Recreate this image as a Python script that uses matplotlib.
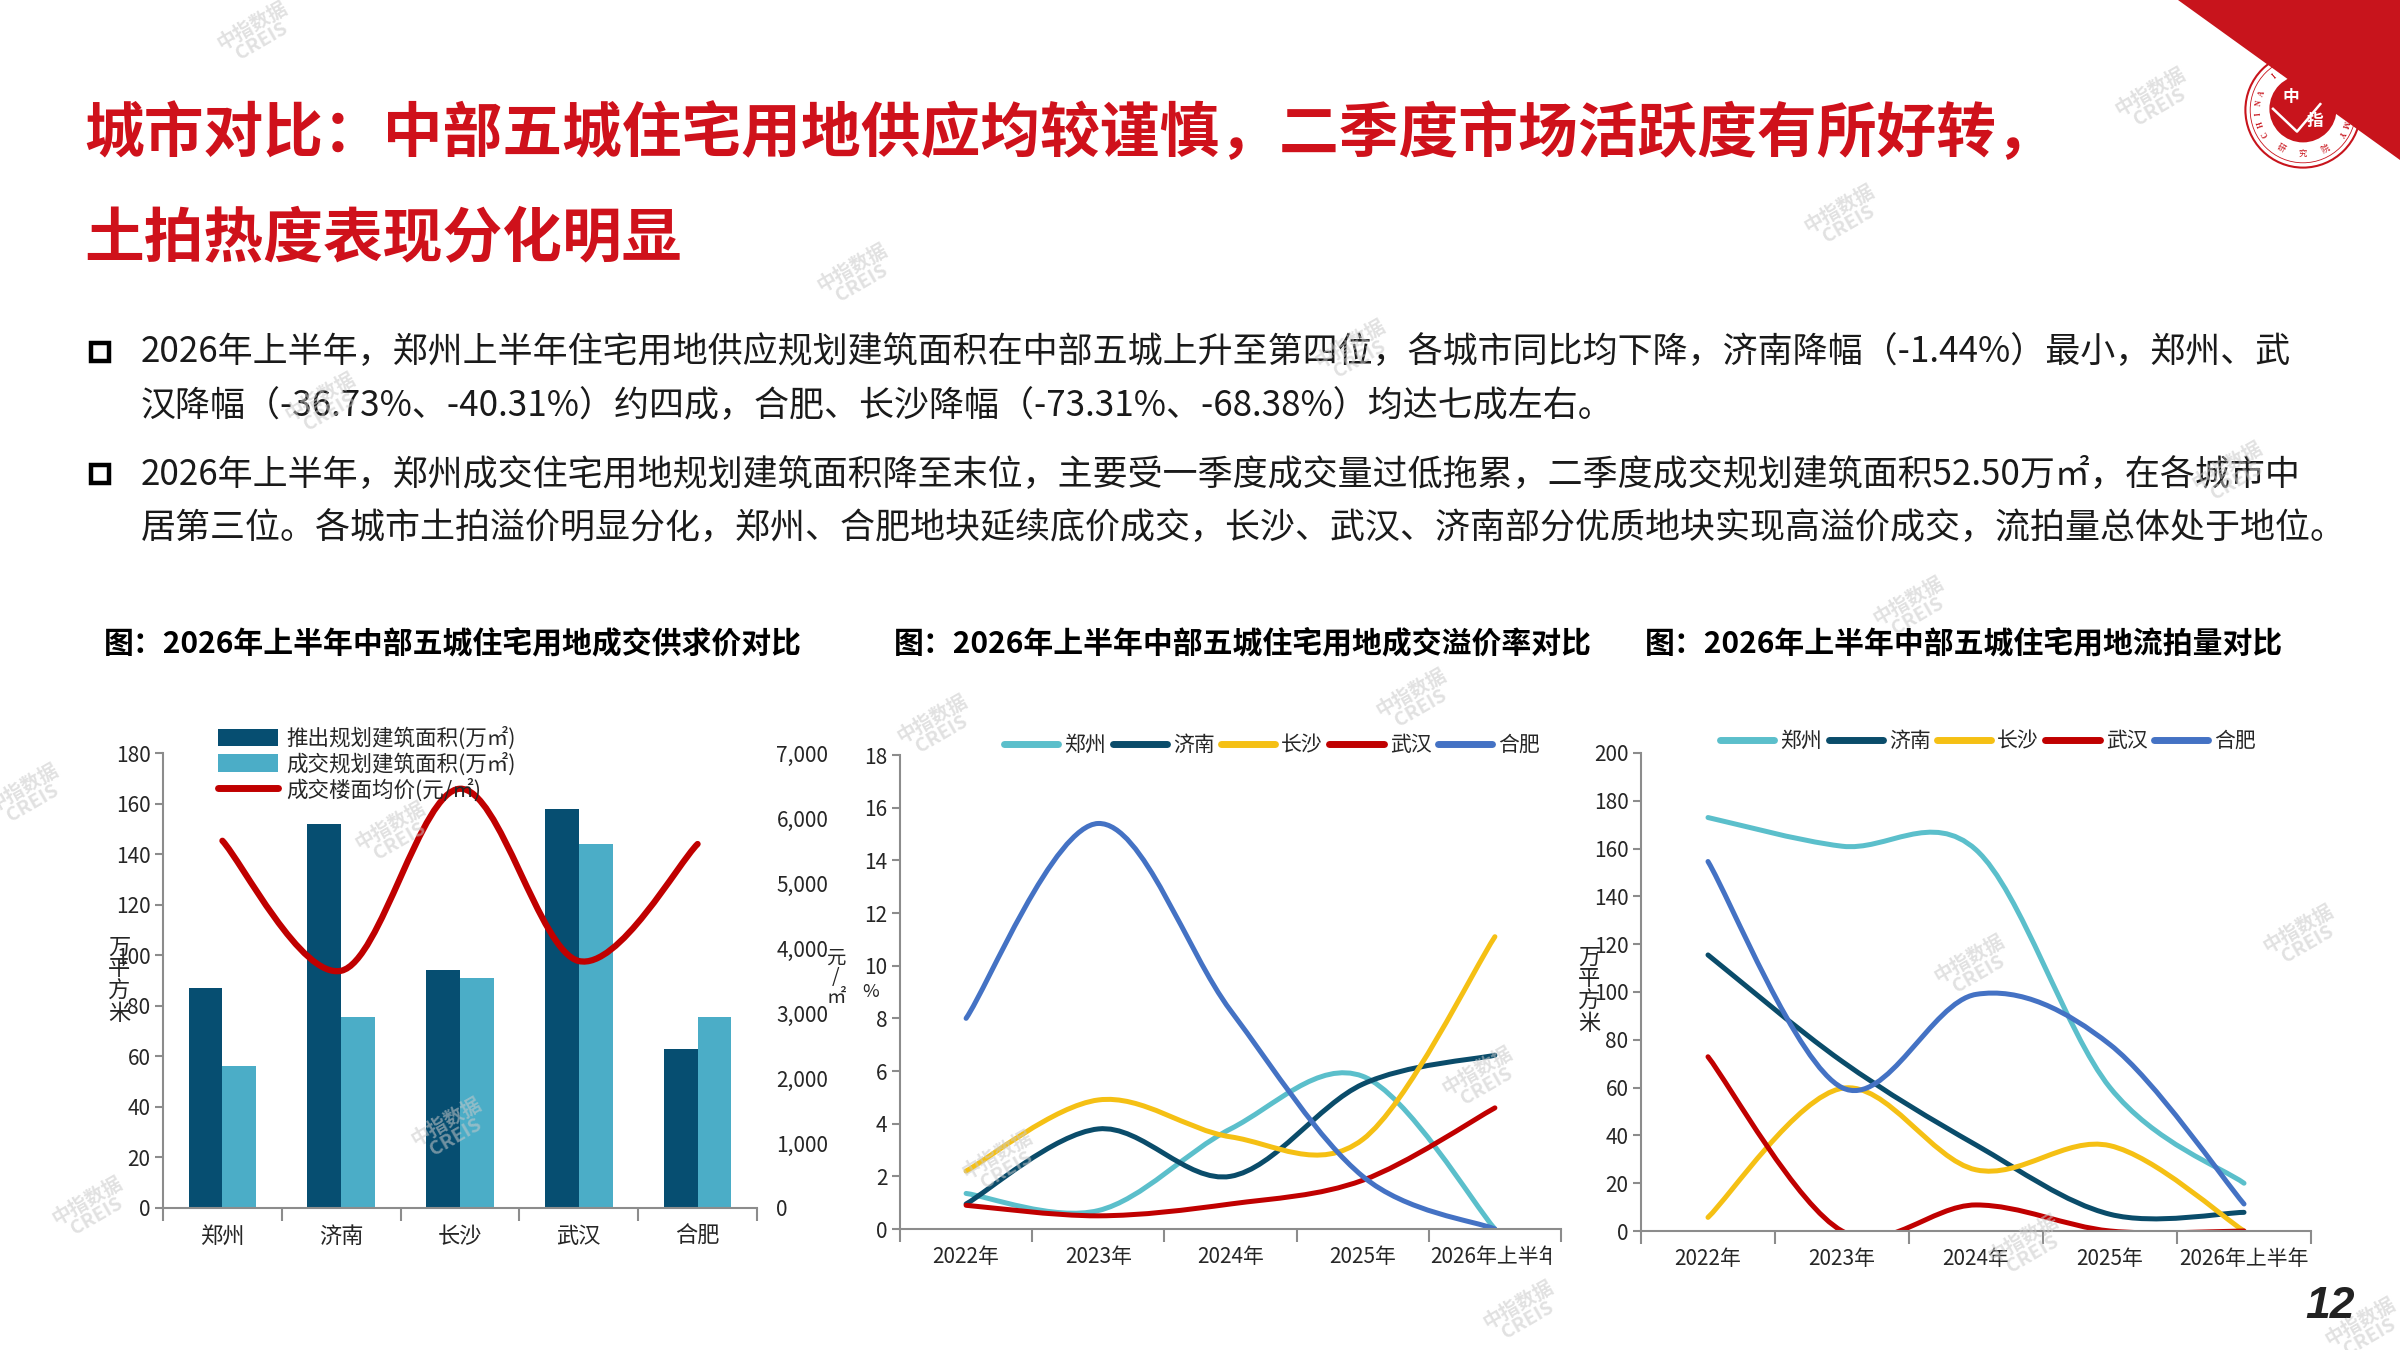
"""
Slide 12: 中部五城住宅用地 supply / premium / unsold comparison, three charts.
  python plot.py  ->  out.png
"""
import matplotlib
matplotlib.use("Agg")
import matplotlib.pyplot as plt
import numpy as np
from matplotlib.path import Path
from matplotlib.patches import PathPatch, Rectangle, Polygon, Circle
from matplotlib.lines import Line2D
from matplotlib.ticker import FuncFormatter
from matplotlib.transforms import Bbox, TransformedBbox

plt.rcParams['font.family'] = ['Noto Sans CJK SC', 'DejaVu Sans']

W, H = 2400, 1350
RED = "#CF111B"
DARK = "#064E71"
LIGHT = "#4BADC7"
GREY = "#8c8c8c"
TXT = "#262626"

# ---- chart 1: supply / sold area and price
cities = ["郑州", "济南", "长沙", "武汉", "合肥"]
launched = [87, 152, 94, 158, 63]
sold = [56, 75.5, 91, 144, 75.5]
price = [5650, 3650, 6450, 3800, 5600]
area_ticks = [0, 20, 40, 60, 80, 100, 120, 140, 160, 180]
price_ticks = [0, 1000, 2000, 3000, 4000, 5000, 6000, 7000]

# ---- chart 2 / 3: periods
periods = ["2022年", "2023年", "2024年", "2025年", "2026年上半年"]
line_names = ["郑州", "济南", "长沙", "武汉", "合肥"]
line_colors = ["#5BBFCB", "#0A4C6A", "#F5C014", "#C00000", "#4472C4"]

# 溢价率 (%)
prem_zz = [1.35, 0.7, 3.8, 5.8, 0.0]
prem_jn = [0.95, 3.8, 2.0, 5.5, 6.6]
prem_cs = [2.2, 4.9, 3.5, 3.4, 11.1]
prem_wh = [0.9, 0.5, 0.95, 1.85, 4.6]
prem_hf = [8.0, 15.4, 8.3, 2.0, 0.0]
prem_ticks = [0, 2, 4, 6, 8, 10, 12, 14, 16, 18]

# 流拍量 (万平方米)
unsold_zz = [173, 161, 159.5, 60, 20]
unsold_jn = [115.5, 71, 36, 7, 7.8]
unsold_cs = [5.7, 59.7, 25.6, 35.7, 0.0]
unsold_wh = [72.9, 0.0, 10.9, 0.0, 0.0]
unsold_hf = [154.6, 60, 99, 78, 11.3]
unsold_ticks = [0, 20, 40, 60, 80, 100, 120, 140, 160, 180, 200]

bullet1 = ["2026年上半年，郑州上半年住宅用地供应规划建筑面积在中部五城上升至第四位，各城市同比均下降，济南降幅（-1.44%）最小，郑州、武",
           "汉降幅（-36.73%、-40.31%）约四成，合肥、长沙降幅（-73.31%、-68.38%）均达七成左右。"]
bullet2 = ["2026年上半年，郑州成交住宅用地规划建筑面积降至末位，主要受一季度成交量过低拖累，二季度成交规划建筑面积52.50万㎡，在各城市中",
           "居第三位。各城市土拍溢价明显分化，郑州、合肥地块延续底价成交，长沙、武汉、济南部分优质地块实现高溢价成交，流拍量总体处于地位。"]


def fx(x):
    return x / W


def fy(y):
    return 1 - y / H


def axes_px(fig, left, top, right, bottom):
    return fig.add_axes([fx(left), fy(bottom), (right - left) / W, (bottom - top) / H])


def smooth_path(xs, ys):
    # Excel-style smoothed line: cubic bezier through every point
    pts = np.column_stack([xs, ys]).astype(float)
    n = len(pts)
    verts, codes = [pts[0]], [Path.MOVETO]
    for i in range(n - 1):
        p0, p1 = pts[max(i - 1, 0)], pts[i]
        p2, p3 = pts[i + 1], pts[min(i + 2, n - 1)]
        verts += [p1 + (p2 - p0) / 6, p2 - (p3 - p1) / 6, p2]
        codes += [Path.CURVE4] * 3
    return Path(verts, codes)


def style(ax, labels, yticks, xsize=15):
    for s in ["top", "right"]:
        ax.spines[s].set_visible(False)
    for s in ["left", "bottom"]:
        ax.spines[s].set_color(GREY)
        ax.spines[s].set_linewidth(1.5)
    ax.set_yticks(yticks)
    ax.set_ylim(yticks[0], yticks[-1])
    ax.tick_params(axis="y", direction="out", length=6, width=1.5, color=GREY,
                   labelsize=15, labelcolor=TXT, pad=3)
    n = len(labels)
    ax.set_xlim(-0.5, n - 0.5)
    ax.set_xticks(np.arange(-0.5, n, 1))
    ax.set_xticklabels([])
    ax.set_xticks(range(n), minor=True)
    ax.set_xticklabels(labels, minor=True)
    ax.tick_params(axis="x", which="major", direction="out", length=9, width=1.5, color=GREY)
    ax.tick_params(axis="x", which="minor", length=0, pad=12, labelsize=xsize, labelcolor=TXT)


def line_chart(fig, box, series, yticks, legend_xy):
    ax = axes_px(fig, *box)
    style(ax, periods, yticks)
    x = np.arange(len(periods))
    for vals, c in zip(series, line_colors):
        ax.add_patch(PathPatch(smooth_path(x, vals), fill=False, edgecolor=c, lw=3.6,
                               capstyle="round", joinstyle="round"))
    handles = [Line2D([], [], color=c, lw=5, solid_capstyle="round") for c in line_colors]
    fig.legend(handles, line_names, loc="center", ncol=5, frameon=False, fontsize=15,
               bbox_to_anchor=(fx(legend_xy[0]), fy(legend_xy[1])), handlelength=2.6,
               handletextpad=0.3, columnspacing=0.3, labelcolor=TXT)
    return ax


def watermark(fig, x, y):
    fig.text(fx(x), fy(y), "中指数据\nCREIS", ha="center", va="center", rotation=30,
             fontsize=14, weight="bold", color="#c9c9c9", alpha=0.55, linespacing=0.9, zorder=20)


fig = plt.figure(figsize=(24, 13.5), dpi=100)

# ---- header
fig.text(fx(84), fy(135), "城市对比：中部五城住宅用地供应均较谨慎，二季度市场活跃度有所好转，",
         fontsize=43, weight="bold", color=RED, va="center")
fig.text(fx(84), fy(240), "土拍热度表现分化明显", fontsize=43, weight="bold", color=RED, va="center")

fig.add_artist(Polygon([[fx(2178), 1], [1, 1], [1, fy(160)]], closed=True,
                       transform=fig.transFigure, color="#C8141C", lw=0))
logo = fig.add_axes([fx(2243), fy(170), 120 / W, 120 / H])
logo.set_xlim(-1, 1); logo.set_ylim(-1, 1); logo.axis("off")
logo.add_patch(Circle((0, 0), 0.96, fc="white", ec="#C8141C", lw=1.5))
logo.add_patch(Circle((0, 0), 0.88, fill=False, ec="#C8141C", lw=0.6))
logo.add_patch(Circle((0, 0.02), 0.56, fc="#C8141C", lw=0))
logo.plot([-0.5, -0.1, 0.56], [0.02, -0.36, 0.42], color="white", lw=1.8)
logo.text(-0.2, 0.22, "中", color="white", fontsize=12, weight="bold", ha="center", va="center")
logo.text(0.2, -0.18, "指", color="white", fontsize=12, weight="bold", ha="center", va="center")
ring = "CHINA INDEX ACADEMY"
for ch, ang in zip(ring, np.linspace(212, -32, len(ring))):
    a = np.radians(ang)
    logo.text(0.74 * np.cos(a), 0.74 * np.sin(a), ch, rotation=ang - 90, fontsize=5.5,
              weight="bold", color="#C8141C", ha="center", va="center", family="Liberation Serif")
for ch, ang in zip("研究院", [240, 270, 300]):
    a = np.radians(ang)
    logo.text(0.74 * np.cos(a), 0.74 * np.sin(a), ch, rotation=ang + 90, fontsize=6,
              color="#C8141C", ha="center", va="center")

# ---- bullets
for top, lines in [(352, bullet1), (474, bullet2)]:
    fig.add_artist(Rectangle((fx(91), fy(top + 9)), 18 / W, 18 / H, fill=False, ec="black",
                             lw=3.2, transform=fig.transFigure))
    for k, line in enumerate(lines):
        fig.text(fx(141), fy(top + 54 * k), line, fontsize=25.2, color="#1a1a1a", va="center")

# ---- chart titles
fig.text(fx(104), fy(643), "图：2026年上半年中部五城住宅用地成交供求价对比", fontsize=21.5, weight="bold", va="center")
fig.text(fx(894), fy(643), "图：2026年上半年中部五城住宅用地成交溢价率对比", fontsize=21.5, weight="bold", va="center")
fig.text(fx(1645), fy(643), "图：2026年上半年中部五城住宅用地流拍量对比", fontsize=21.5, weight="bold", va="center")

# ---- chart 1
ax1 = axes_px(fig, 163, 753, 757, 1208)
style(ax1, cities, area_ticks, xsize=16)
x = np.arange(len(cities))
bw = 0.285
b1 = ax1.bar(x - bw / 2, launched, bw, color=DARK, zorder=2)
b2 = ax1.bar(x + bw / 2, sold, bw, color=LIGHT, zorder=2)
ax2 = ax1.twinx()
ax2.set_ylim(price_ticks[0], price_ticks[-1])
ax2.set_yticks(price_ticks)
ax2.yaxis.set_major_formatter(FuncFormatter(lambda v, p: f"{v:,.0f}"))
for s in ax2.spines.values():
    s.set_visible(False)
ax2.tick_params(axis="y", length=0, pad=14, labelsize=15, labelcolor=TXT)
ax2.add_patch(PathPatch(smooth_path(x, price), fill=False, edgecolor="#C00000", lw=4.5,
                        capstyle="round", joinstyle="round"))
red_h = Line2D([], [], color="#C00000", lw=5, solid_capstyle="round")
fig.legend([b1, b2, red_h], ["推出规划建筑面积(万㎡)", "成交规划建筑面积(万㎡)", "成交楼面均价(元/㎡)"],
           loc="upper left", bbox_to_anchor=(fx(207), fy(716)), frameon=False, fontsize=15.5,
           handlelength=2.8, handleheight=0.9, labelspacing=0.12, handletextpad=0.4,
           borderpad=0, labelcolor=TXT)
fig.text(fx(119), fy(980), "万\n平\n方\n米", fontsize=16, ha="center", va="center", linespacing=0.95, color=TXT)
fig.text(fx(836), fy(978), "元\n/\n㎡", fontsize=14, ha="center", va="center", linespacing=0.9, color=TXT)

# ---- chart 2
ax3 = line_chart(fig, (900, 755, 1561, 1229),
                 [prem_zz, prem_jn, prem_cs, prem_wh, prem_hf], prem_ticks, (1272, 745))
fig.text(fx(871), fy(992), "%", fontsize=13, ha="center", va="center", color=TXT)
# the last period label is cut at the chart edge in the source picture
clip = TransformedBbox(Bbox([[-0.3, -0.4], [0.985, 1.0]]), ax3.transAxes)
for lbl in ax3.get_xticklabels(minor=True):
    lbl.set_clip_box(clip)
    lbl.set_clip_on(True)

# ---- chart 3
line_chart(fig, (1641, 753, 2311, 1231),
           [unsold_zz, unsold_jn, unsold_cs, unsold_wh, unsold_hf], unsold_ticks, (1988, 741))
fig.text(fx(1589), fy(990), "万\n平\n方\n米", fontsize=16, ha="center", va="center", linespacing=0.95, color=TXT)

# ---- page number + watermarks
fig.text(fx(2330), fy(1306), "12", fontsize=32, weight="bold", style="italic", ha="center",
         va="center", color="#222222", family="Liberation Sans")
for wx, wy in [(257, 34), (857, 276), (1844, 217), (2155, 100), (1913, 609), (937, 727),
               (1416, 701), (395, 834), (28, 796), (1974, 967), (2303, 937), (451, 1130),
               (1002, 1163), (1482, 1079), (92, 1209), (2028, 1247), (1523, 1313), (2365, 1330),
               (1355, 352), (325, 405), (2232, 474)]:
    watermark(fig, wx, wy)

fig.savefig("out.png", dpi=100)
print("wrote out.png")
